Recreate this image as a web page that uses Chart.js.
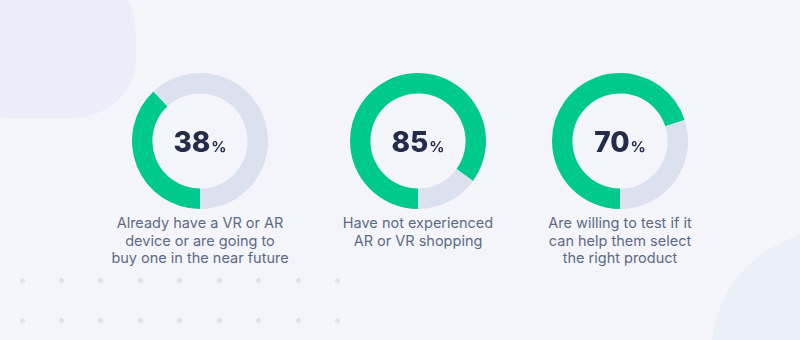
<!DOCTYPE html>
<html>
<head>
<meta charset="utf-8">
<script src="https://cdn.jsdelivr.net/npm/chart.js@4"></script>
<style>
    html, body {
        margin: 0;
        padding: 0;
    }
    body {
        width: 800px;
        height: 340px;
        background: #f3f5fa;
        position: relative;
        overflow: hidden;
        font-family: Inter, 'Noto Sans', sans-serif;
    }
    .blob-top {
        position: absolute;
        left: -60px;
        top: -20px;
        width: 196px;
        height: 138px;
        background: #ebeef8;
        border-radius: 0 30px 64px 70px / 0 60px 58px 40px;
    }
    .blob-bottom {
        position: absolute;
        left: 712px;
        top: 228px;
        width: 220px;
        height: 220px;
        background: #ebeff8;
        border-radius: 60% 40% 40% 60% / 55% 45% 55% 45%;
    }
    .dot {
        position: absolute;
        width: 5px;
        height: 5px;
        border-radius: 50%;
        background: #dde2ef;
    }
    .donut {
        position: absolute;
        top: 73px;
        width: 136px;
        height: 136px;
    }
    .caption {
        position: absolute;
        top: 214px;
        width: 220px;
        text-align: center;
        font-size: 14.5px;
        line-height: 17.5px;
        color: #5d6a85;
    }
</style>
</head>
<body>
<div class="blob-top"></div>
<div class="blob-bottom"></div>
<div id="dots"></div>
<div id="charts"></div>

<script>
const captions = [
    ['Already have a VR or AR', 'device or are going to', 'buy one in the near future'],
    ['Have not experienced', 'AR or VR shopping'],
    ['Are willing to test if it', 'can help them select', 'the right product'],
];
const percentages = [38, 85, 70];
const centersX = [200, 418, 620];

const GREEN = '#00c98d';
const TRACK = '#dbe1ef';

// big number with a small "%" after it, centred in the hole
const centerText = {
    id: 'centerText',
    afterDraw(chart, args, opts) {
        const { ctx, chartArea } = chart;
        const cx = (chartArea.left + chartArea.right) / 2;
        const cy = (chartArea.top + chartArea.bottom) / 2;
        const num = String(opts.value);
        const gap = 1;

        ctx.save();
        ctx.fillStyle = '#252b4a';
        ctx.textBaseline = 'alphabetic';
        ctx.font = '800 28px Inter, sans-serif';
        const numWidth = ctx.measureText(num).width;
        ctx.font = '700 15px Inter, sans-serif';
        const pctWidth = ctx.measureText('%').width;
        const left = cx - (numWidth + gap + pctWidth) / 2;

        ctx.font = '800 28px Inter, sans-serif';
        ctx.fillText(num, left, cy + 11);
        ctx.font = '700 15px Inter, sans-serif';
        ctx.fillText('%', left + numWidth + gap, cy + 11);
        ctx.restore();
    },
};

const dots = document.getElementById('dots');
[280, 320].forEach((y) => {
    for (let i = 0; i < 9; i++) {
        const d = document.createElement('div');
        d.className = 'dot';
        d.style.left = (22 + i * 39.45 - 2.5) + 'px';
        d.style.top = (y - 2.5) + 'px';
        dots.appendChild(d);
    }
});

const holder = document.getElementById('charts');

percentages.forEach((value, i) => {
    const box = document.createElement('div');
    box.className = 'donut';
    box.style.left = (centersX[i] - 68) + 'px';
    const canvas = document.createElement('canvas');
    box.appendChild(canvas);
    holder.appendChild(box);

    const caption = document.createElement('div');
    caption.className = 'caption';
    caption.style.left = (centersX[i] - 110) + 'px';
    caption.innerHTML = captions[i].join('<br>');
    holder.appendChild(caption);

    new Chart(canvas.getContext('2d'), {
        type: 'doughnut',
        data: {
            labels: ['yes', 'no'],
            datasets: [
                {
                    data: [value, 100 - value],
                    backgroundColor: [GREEN, TRACK],
                    borderWidth: 0,
                },
            ],
        },
        options: {
            responsive: true,
            maintainAspectRatio: false,
            animation: false,
            events: [],
            rotation: 180,
            cutout: '70%',
            layout: {
                padding: 0,
            },
            plugins: {
                legend: {
                    display: false,
                },
                tooltip: {
                    enabled: false,
                },
                centerText: {
                    value,
                },
            },
        },
        plugins: [centerText],
    });
});
</script>
</body>
</html>
